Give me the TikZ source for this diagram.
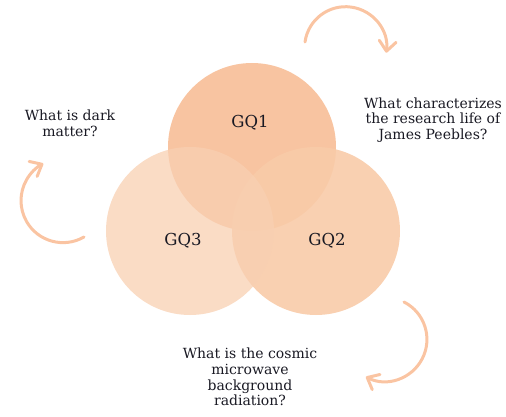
\documentclass[tikz,border=0pt]{standalone}
\usepackage{fontspec}
\setmainfont{DejaVu Serif}
\usetikzlibrary{arrows.meta}
\definecolor{cOne}{RGB}{248,196,161}
\definecolor{cTwo}{RGB}{248,203,168}
\definecolor{cThree}{RGB}{248,208,178}
\definecolor{arrowc}{RGB}{250,196,162}
\definecolor{txt}{RGB}{25,25,35}
\tikzset{
  venn/.style={circle, minimum size=168pt, inner sep=0pt},
  gq/.style={font=\fontsize{16.5}{19}\selectfont, text=txt},
  question/.style={align=center, text=txt, font=\fontsize{14}{15.7}\selectfont, inner sep=0pt},
  curl/.style={draw=arrowc, line width=3pt, line cap=round, line join=round,
    -{Straight Barb[length=10pt, width=17pt, line width=3pt, round]}}
}
\begin{document}
\begin{tikzpicture}[x=1pt, y=-1pt]
\useasboundingbox (0,0) rectangle (506,417);
% circles
\node[venn, fill=cOne] (c1) at (252,147) {};
\node[venn, fill=cTwo, fill opacity=0.9] (c2) at (316,231) {};
\node[venn, fill=cThree, fill opacity=0.75] (c3) at (190,231) {};
\node[gq] (g1) at (250,123) {GQ1};
\node[gq] (g2) at (327,241) {GQ2};
\node[gq] (g3) at (183,241) {GQ3};
% questions
\node[question] (q1) at (70,123) {What is dark\\matter?};
\node[question] (q2) at (433,120) {What characterizes\\the research life of\\James Peebles?};
\node[question] (q3) at (250,377) {What is the cosmic\\microwave\\background\\radiation?};
% curled arrows
\coordinate (a1s) at (305,42);
\coordinate (a2s) at (84,237);
\coordinate (a3s) at (404,302);
\draw[curl] (a1s) arc[start angle=-172, end angle=7, radius=41];
\draw[curl] (a2s) arc[start angle=60, end angle=242, radius=42];
\draw[curl] (a3s) arc[start angle=-63, end angle=117, radius=42];
\end{tikzpicture}
\end{document}
